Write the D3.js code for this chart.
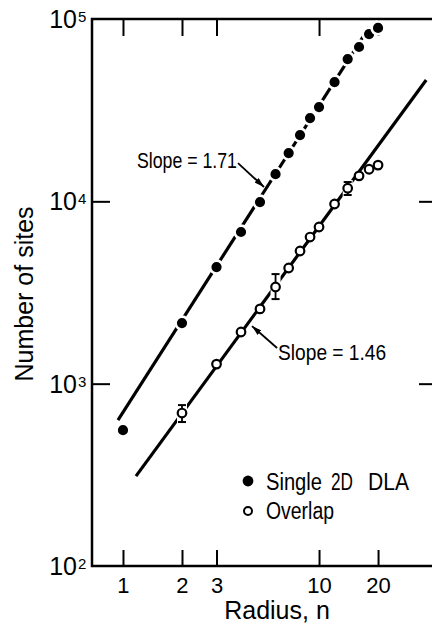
<!DOCTYPE html>
<html>
<head>
<meta charset="utf-8">
<script src="https://cdn.jsdelivr.net/npm/d3@7"></script>
<style>
  body { margin: 0; background: #fff; }
  text { fill: #000; font-family: "Liberation Sans", Arial, sans-serif; }
</style>
</head>
<body>
<svg id="chart"></svg>
<script>
// ---- data ----
var radius       = [1, 2, 3, 4, 5, 6, 7, 8, 9, 10, 12, 14, 16, 18, 20];
var singleSites  = [556, 2150, 4360, 6790, 9910, 14100, 18400, 23100, 28600, 32900, 45100, 60300, 70200, 82700, 89300];
var overlapRadius = [2, 3, 4, 5, 6, 7, 8, 9, 10, 12, 14, 16, 18, 20];
var overlapSites  = [690, 1280, 1920, 2570, 3390, 4310, 5340, 6370, 7230, 9670, 11800, 13800, 15000, 15800];
// error bars: [radius, low, high]
var overlapErr = [[2, 616, 763], [6, 2910, 3990], [14, 10830, 12760]];
// fitted lines, end points
var singleFit  = [[0.943, 631], [18, 90000]];
var overlapFit = [[1.165, 311], [35.2, 46250]];
var xTicks = [1, 2, 3, 10, 20];
var yTicks = [100, 1000, 10000, 100000];
var yExp   = ["2", "3", "4", "5"];
// slope notes: text, arrow tail [n,N], arrow tip [n,N]
var notes = [
  {text: "Slope = 1.71", tail: [3.86, 16200], tip: [5.24, 11980], side: "left",  w: 100},
  {text: "Slope = 1.46", tail: [6.11, 1568],  tip: [4.55, 2070],  side: "right", w: 108}
];
var legendWords = [["Single", 0, 56], ["2D", 65, 22], ["DLA", 102, 41]];

var W = 432, H = 624;
var L = 92, T = 19, R = 436, B = 566;

var svg = d3.select("#chart").attr("width", W).attr("height", H);

var x = d3.scaleLog().domain([0.695, 39.5]).range([L, R]);
var y = d3.scaleLog().domain([100, 100000]).range([B, T]);

svg.append("defs").append("marker")
    .attr("id", "head")
    .attr("viewBox", "0 0 10 6")
    .attr("refX", 10).attr("refY", 3)
    .attr("markerWidth", 10).attr("markerHeight", 6)
    .attr("markerUnits", "userSpaceOnUse")
    .attr("orient", "auto")
  .append("path").attr("d", "M0,0L10,3L0,6Z").attr("fill", "#000");

// frame
svg.append("rect")
    .attr("x", L).attr("y", T)
    .attr("width", R - L).attr("height", B - T)
    .attr("fill", "none").attr("stroke", "#000").attr("stroke-width", 2.5);

// axes (ticks inward)
function styleAxis(g){
    g.select(".domain").remove();
    g.selectAll(".tick line").attr("stroke", "#000").attr("stroke-width", 2);
}
svg.append("g").attr("transform", "translate(0," + B + ")")
    .call(d3.axisBottom(x).tickValues(xTicks).tickSizeInner(-16).tickSizeOuter(0)
          .tickPadding(10).tickFormat(d3.format("d")))
    .call(styleAxis)
    .selectAll("text").attr("font-family", null).attr("font-size", 22).attr("dy", "0.75em");
svg.append("g").attr("transform", "translate(0," + T + ")")
    .call(d3.axisTop(x).tickValues(xTicks).tickSizeInner(-17).tickSizeOuter(0).tickFormat(""))
    .call(styleAxis);
svg.append("g").attr("transform", "translate(" + L + ",0)")
    .call(d3.axisLeft(y).tickValues([1000, 10000]).tickSizeInner(-18).tickSizeOuter(0).tickFormat(""))
    .call(styleAxis);
svg.append("g").attr("transform", "translate(" + R + ",0)")
    .call(d3.axisRight(y).tickValues([1000, 10000]).tickSizeInner(-17).tickSizeOuter(0).tickFormat(""))
    .call(styleAxis);
svg.selectAll("g").attr("font-family", null);

// y labels 10^n
svg.selectAll(".ylab").data(yTicks).enter().append("text")
    .attr("class", "ylab")
    .attr("x", 77).attr("y", function(d){ return y(d) + 9; })
    .attr("text-anchor", "end").attr("font-size", 25)
    .text("10");
svg.selectAll(".yexp").data(yTicks).enter().append("text")
    .attr("class", "yexp")
    .attr("x", 78).attr("y", function(d){ return y(d) + 3; })
    .attr("font-size", 15)
    .text(function(d, i){ return yExp[i]; });

// axis titles
svg.append("text")
    .attr("x", 277).attr("y", 619).attr("text-anchor", "middle")
    .attr("font-size", 25).text("Radius, n");
svg.append("text")
    .attr("transform", "translate(33,294) rotate(-90)")
    .attr("text-anchor", "middle").attr("font-size", 25).text("Number of sites");

// fitted lines
var line = d3.line().x(function(d){ return x(d[0]); }).y(function(d){ return y(d[1]); });
[singleFit, overlapFit].forEach(function(f){
    svg.append("path").attr("d", line(f))
        .attr("fill", "none").attr("stroke", "#000").attr("stroke-width", 3.2);
});

// error bars, with white halo that breaks the line
var eb = svg.selectAll(".err").data(overlapErr).enter().append("g").attr("class", "err");
eb.append("line")
    .attr("x1", function(d){ return x(d[0]); }).attr("x2", function(d){ return x(d[0]); })
    .attr("y1", function(d){ return y(d[1]) + 2; }).attr("y2", function(d){ return y(d[2]) - 2; })
    .attr("stroke", "#fff").attr("stroke-width", 10);
eb.append("line")
    .attr("x1", function(d){ return x(d[0]); }).attr("x2", function(d){ return x(d[0]); })
    .attr("y1", function(d){ return y(d[1]); }).attr("y2", function(d){ return y(d[2]); })
    .attr("stroke", "#000").attr("stroke-width", 1.8);
eb.selectAll(".cap").data(function(d){ return [[d[0], d[1]], [d[0], d[2]]]; })
  .enter().append("line")
    .attr("x1", function(d){ return x(d[0]) - 4; }).attr("x2", function(d){ return x(d[0]) + 4; })
    .attr("y1", function(d){ return y(d[1]); }).attr("y2", function(d){ return y(d[1]); })
    .attr("stroke", "#000").attr("stroke-width", 2);

// single 2D DLA: filled dots with white halo
svg.selectAll(".single").data(radius).enter().append("circle")
    .attr("class", "single")
    .attr("cx", function(d){ return x(d); })
    .attr("cy", function(d, i){ return y(singleSites[i]); })
    .attr("r", 6.4)
    .attr("fill", "#000").attr("stroke", "#fff").attr("stroke-width", 2.6);

// overlap: open circles
svg.selectAll(".overlap").data(overlapRadius).enter().append("circle")
    .attr("class", "overlap")
    .attr("cx", function(d){ return x(d); })
    .attr("cy", function(d, i){ return y(overlapSites[i]); })
    .attr("r", 4.3)
    .attr("fill", "#fff").attr("stroke", "#000").attr("stroke-width", 2.2);

// slope notes
notes.forEach(function(n){
    var tx = x(n.tail[0]), ty = y(n.tail[1]);
    svg.append("line")
        .attr("x1", tx).attr("y1", ty).attr("x2", x(n.tip[0])).attr("y2", y(n.tip[1]))
        .attr("stroke", "#000").attr("stroke-width", 1.8).attr("marker-end", "url(#head)");
    svg.append("text")
        .attr("x", n.side === "left" ? tx - 1 - n.w : tx + 1)
        .attr("y", n.side === "left" ? ty + 5 : ty + 12)
        .attr("font-size", 22)
        .attr("textLength", n.w).attr("lengthAdjust", "spacingAndGlyphs")
        .text(n.text);
});

// legend
var lg = svg.append("g").attr("transform", "translate(248,481)");
lg.append("circle").attr("r", 5.4).attr("fill", "#000");
lg.append("circle").attr("cy", 30).attr("r", 4).attr("fill", "#fff")
    .attr("stroke", "#000").attr("stroke-width", 2);
legendWords.forEach(function(w){
    lg.append("text").attr("x", 18 + w[1]).attr("y", 9).attr("font-size", 23)
        .attr("textLength", w[2]).attr("lengthAdjust", "spacingAndGlyphs").text(w[0]);
});
lg.append("text").attr("x", 18).attr("y", 38).attr("font-size", 23)
    .attr("textLength", 68).attr("lengthAdjust", "spacingAndGlyphs").text("Overlap");
</script>
</body>
</html>
